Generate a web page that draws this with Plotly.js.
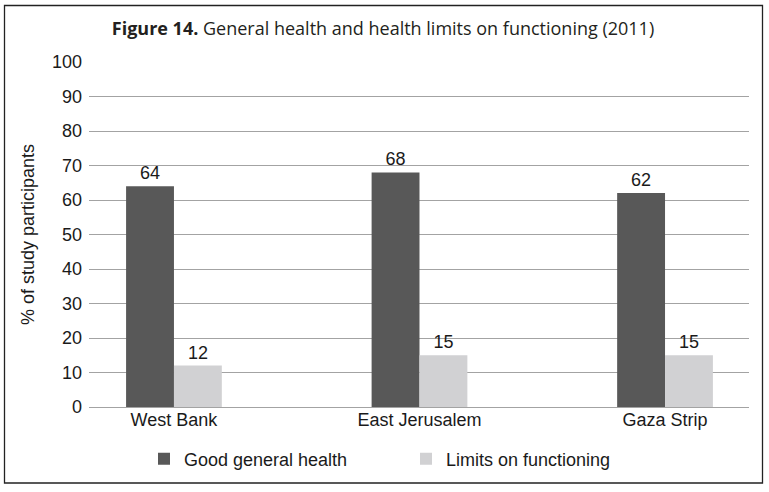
<!DOCTYPE html>
<html><head><meta charset="utf-8">
<script src="https://cdn.plot.ly/plotly-3.0.1.min.js"></script>
<style>html,body{margin:0;padding:0;background:#fff;}#chart{width:769px;height:492px;}</style>
</head><body><div id="chart"></div>
<script>
const regions = ["West Bank", "East Jerusalem", "Gaza Strip"];
const goodHealth = [64, 68, 62];
const limitsFunctioning = [12, 15, 15];
const seriesNames = ["Good general health", "Limits on functioning"];
const yTicks = [0,10,20,30,40,50,60,70,80,90,100];

const W = 769, H = 492;
const L = 89, R = 20, T = 62, B = 85;
const pw = W - L - R, ph = H - T - B;
const px = x => (x - L) / pw;
const py = y => (H - B - y) / ph;

const font = {family: "Liberation Sans, Arial, sans-serif", size: 18, color: "#1a1a1a"};

const traces = [
  {type: "bar", x: [0,1,2], y: goodHealth, name: seriesNames[0], legend: "legend",
   marker: {color: "#585858"}, text: goodHealth.map(String), textposition: "outside",
   textfont: font, cliponaxis: false},
  {type: "bar", x: [0,1,2], y: limitsFunctioning, name: seriesNames[1], legend: "legend2",
   marker: {color: "#d1d1d3"}, text: limitsFunctioning.map(String), textposition: "outside",
   textfont: font, cliponaxis: false}
];

const legBase = {orientation: "h", xanchor: "left", y: py(459), yanchor: "middle",
                 font: font, itemclick: false, bgcolor: "rgba(0,0,0,0)"};

const layout = {
  width: W, height: H,
  margin: {l: L, r: R, t: T, b: B, autoexpand: false},
  paper_bgcolor: "#fff", plot_bgcolor: "#fff",
  barmode: "group", bargap: 0.61, bargroupgap: 0,
  font: font,
  title: {text: "<b>Figure 14.</b> General health and health limits on functioning (2011)",
          font: {family: "Open Sans, sans-serif", size: 18, color: "#231f20"},
          x: 383 / W, xanchor: "center", xref: "container", y: 1 - 28.5/H, yanchor: "middle"},
  xaxis: {range: [-0.346, 2.342], tickvals: [0,1,2], ticktext: regions,
          showgrid: false, zeroline: false, showline: false, ticks: "",
          tickfont: font, fixedrange: true},
  yaxis: {range: [0, 100], tickvals: yTicks, ticks: "", showline: false,
          gridcolor: "#a3a3a3", gridwidth: 1, zeroline: true, zerolinecolor: "#a3a3a3", zerolinewidth: 1,
          tickfont: font, ticklabelstandoff: 6,
          title: {text: "% of study participants", font: font, standoff: 12}},
  showlegend: true,
  legend: Object.assign({}, legBase, {x: px(144)}),
  legend2: Object.assign({}, legBase, {x: px(406)}),
  shapes: [{type: "rect", xref: "paper", yref: "paper",
            x0: px(4.5), x1: px(762.5), y0: py(483), y1: py(5.5),
            line: {color: "#222", width: 1.3}, fillcolor: "rgba(0,0,0,0)", layer: "above"}]
};

Plotly.newPlot("chart", traces, layout, {displayModeBar: false, staticPlot: true});
</script></body></html>
